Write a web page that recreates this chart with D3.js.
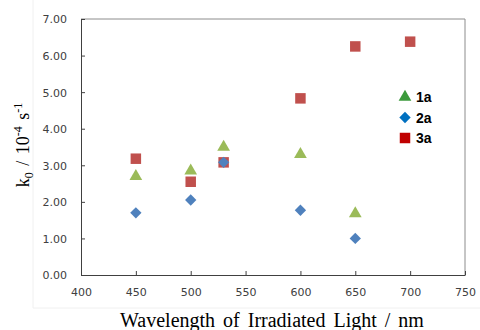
<!DOCTYPE html>
<html>
<head>
<meta charset="utf-8">
<script src="https://cdn.jsdelivr.net/npm/d3@7"></script>
<style>
  body { margin: 0; background: #fff; }
  svg { display: block; }
</style>
</head>
<body>
<script>
// data
const wl1a = [450, 500, 530, 600, 650];
const k1a = [2.70, 2.85, 3.50, 3.30, 1.68];
const wl2a = [450, 500, 530, 600, 650];
const k2a = [1.70, 2.05, 3.08, 1.77, 1.00];
const wl3a = [450, 500, 530, 600, 650, 700];
const k3a = [3.18, 2.55, 3.08, 4.83, 6.25, 6.38];
const xTicks = [400, 450, 500, 550, 600, 650, 700, 750];
const yTicks = [0, 1, 2, 3, 4, 5, 6, 7];
const legendNames = ["1a", "2a", "3a"];

const width = 480, height = 330;
const plotLeft = 81, plotRight = 465, plotTop = 19, plotBottom = 275;

const svg = d3.select("body").append("svg")
  .attr("width", width)
  .attr("height", height);

// faint frame of the pasted chart area
svg.append("line").attr("x1", 33).attr("x2", 33).attr("y1", 0).attr("y2", 308)
  .attr("stroke", "#f0f0f0");
svg.append("line").attr("x1", 33).attr("x2", width).attr("y1", 308).attr("y2", 308)
  .attr("stroke", "#f0f0f0");

const x = d3.scaleLinear().domain([400, 750]).range([plotLeft, plotRight]);
const y = d3.scaleLinear().domain([0, 7]).range([plotBottom, plotTop]);

// plot border (top/right gray)
svg.append("path")
  .attr("d", "M" + plotLeft + "," + plotTop + "H" + plotRight + "V" + plotBottom)
  .attr("fill", "none")
  .attr("stroke", "#8c8c8c")
  .attr("stroke-width", 1);

const xAxis = svg.append("g")
  .attr("transform", "translate(0," + plotBottom + ")")
  .call(d3.axisBottom(x).tickValues(xTicks).tickSizeInner(-4).tickSizeOuter(0).tickPadding(13));

const yAxis = svg.append("g")
  .attr("transform", "translate(" + plotLeft + ",0)")
  .call(d3.axisLeft(y).tickValues(yTicks).tickFormat(d3.format(".2f")).tickSizeInner(-4).tickSizeOuter(0).tickPadding(14));

[xAxis, yAxis].forEach(function (ax) {
  ax.select(".domain").attr("stroke", "#404040");
  ax.selectAll(".tick line").attr("stroke", "#404040");
  ax.selectAll(".tick text")
    .attr("fill", "#404040")
    .attr("font-family", "DejaVu Sans, Verdana, sans-serif")
    .attr("font-size", "11px");
});
yAxis.selectAll(".tick text").attr("dy", "0.35em");

const tri = d3.symbol().type(d3.symbolTriangle).size(70);
const sq = d3.symbol().type(d3.symbolSquare).size(110);
const dia = d3.symbol().type(d3.symbolSquare).size(64);

function plot(xs, ys, gen, color, rot) {
  svg.append("g").selectAll("path")
    .data(xs)
    .enter().append("path")
    .attr("d", gen)
    .attr("fill", color)
    .attr("transform", function (d, i) {
      return "translate(" + x(d) + "," + y(ys[i]) + ")" + (rot ? " rotate(45)" : "");
    });
}

plot(wl1a, k1a, tri, "#9bbb59", false);
plot(wl3a, k3a, sq, "#c0504d", false);
plot(wl2a, k2a, dia, "#4f81bd", true);

// legend
const legendGens = [tri, dia, sq];
const legendColors = ["#3c9a3c", "#0070c0", "#c00000"];
const legend = svg.append("g");
legendNames.forEach(function (name, i) {
  const ly = 97 + i * 20.5;
  legend.append("path")
    .attr("d", legendGens[i])
    .attr("fill", legendColors[i])
    .attr("transform", "translate(405," + ly + ")" + (i === 1 ? " rotate(45)" : ""));
  legend.append("text")
    .attr("x", 416)
    .attr("y", ly)
    .attr("dy", "0.36em")
    .attr("font-family", "Liberation Sans, Arial, sans-serif")
    .attr("font-weight", "bold")
    .attr("font-size", "14px")
    .attr("fill", "#000")
    .text(name);
});

// axis titles
svg.append("text")
  .attr("x", 272)
  .attr("y", 327)
  .attr("text-anchor", "middle")
  .attr("font-family", "Liberation Serif, Times New Roman, serif")
  .attr("font-size", "20px")
  .attr("word-spacing", "3px")
  .attr("fill", "#000")
  .text("Wavelength of Irradiated Light / nm");

const yt = svg.append("text")
  .attr("transform", "translate(29,145) rotate(-90)")
  .attr("text-anchor", "middle")
  .attr("font-family", "Liberation Serif, Times New Roman, serif")
  .attr("font-size", "18px")
  .attr("word-spacing", "2px")
  .attr("fill", "#000");
yt.append("tspan").text("k");
yt.append("tspan").attr("font-size", "12px").attr("dy", 4).text("0");
yt.append("tspan").attr("dy", -4).text(" / 10");
yt.append("tspan").attr("font-size", "12px").attr("dy", -7).text("-4");
yt.append("tspan").attr("dy", 7).text(" s");
yt.append("tspan").attr("font-size", "12px").attr("dy", -7).text("-1");
</script>
</body>
</html>
